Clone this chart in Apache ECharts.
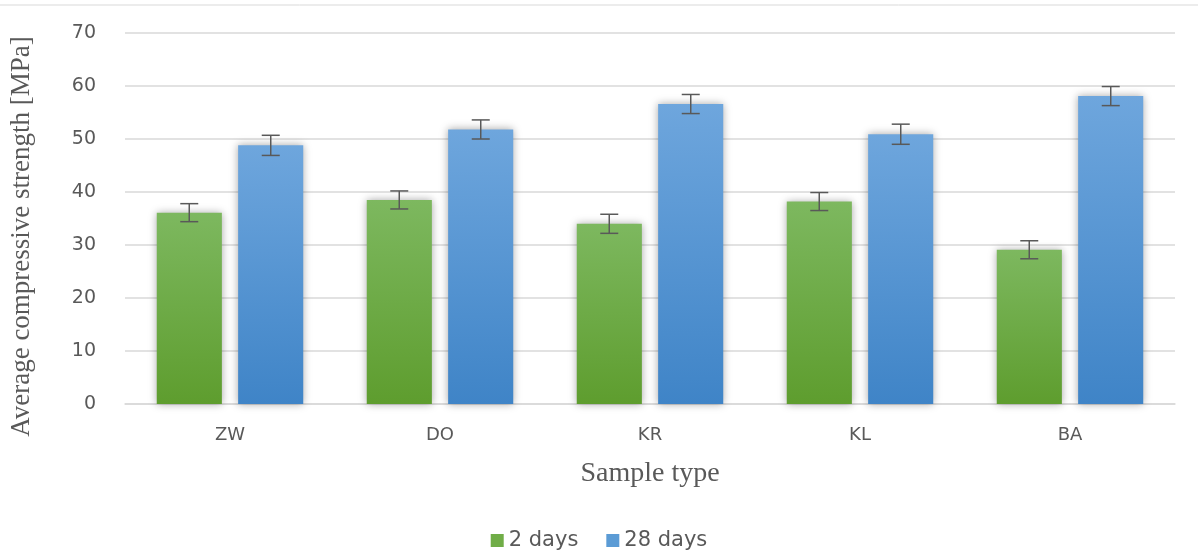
<!DOCTYPE html>
<html>
<head>
<meta charset="utf-8">
<script src="https://cdn.jsdelivr.net/npm/echarts@6/dist/echarts.min.js"></script>
<style>html,body{margin:0;padding:0;background:#fff}#c{width:1198px;height:558px}</style>
</head>
<body>
<div id="c"></div>
<script>
const categories = ['ZW', 'DO', 'KR', 'KL', 'BA'];
const days2 = [36.1, 38.5, 34.0, 38.2, 29.1];
const days28 = [48.8, 51.8, 56.6, 50.9, 58.1];
const err2 = [1.7, 1.7, 1.8, 1.7, 1.7];
const err28 = [1.9, 1.8, 1.8, 1.9, 1.8];
const seriesNames = ['2 days', '28 days'];

const chart = echarts.init(document.getElementById('c'));

function errSeries(vals, errs, side) {
  return {
    type: 'custom',
    z: 10,
    silent: true,
    data: vals.map((v, i) => [i, v, errs[i]]),
    renderItem: function (params, api) {
      const i = api.value(0), v = api.value(1), e = api.value(2);
      const band = api.size([1, 0])[0];
      const off = side * band * 0.194;
      const top = api.coord([i, v + e]);
      const bot = api.coord([i, v - e]);
      const x = top[0] + off;
      const hw = 9;
      const st = { stroke: '#595959', lineWidth: 1.5 };
      return {
        type: 'group',
        children: [
          { type: 'line', shape: { x1: x, y1: top[1], x2: x, y2: bot[1] }, style: st },
          { type: 'line', shape: { x1: x - hw, y1: top[1], x2: x + hw, y2: top[1] }, style: st },
          { type: 'line', shape: { x1: x - hw, y1: bot[1], x2: x + hw, y2: bot[1] }, style: st }
        ]
      };
    }
  };
}

const green = new echarts.graphic.LinearGradient(0, 0, 0, 1, [
  { offset: 0, color: '#7db85f' }, { offset: 1, color: '#5e9d2e' }
]);
const blue = new echarts.graphic.LinearGradient(0, 0, 0, 1, [
  { offset: 0, color: '#6ea6dd' }, { offset: 1, color: '#3f84c7' }
]);

chart.setOption({
  animation: false,
  backgroundColor: '#fff',
  graphic: [{
    type: 'line', shape: { x1: 0, y1: 5, x2: 1198, y2: 5 },
    style: { stroke: '#d9d9d9', lineWidth: 1 }
  }],
  legend: {
    bottom: 2,
    left: 'center',
    itemWidth: 13,
    itemHeight: 13,
    itemGap: 28,
    icon: 'rect',
    textStyle: { fontFamily: 'DejaVu Sans', fontSize: 21, color: '#595959' },
    data: [
      { name: seriesNames[0], itemStyle: { color: '#70ad47' } },
      { name: seriesNames[1], itemStyle: { color: '#5b9bd5' } }
    ]
  },
  grid: { left: 125, right: 23, top: 33, bottom: 154, containLabel: false, outerBoundsMode: 'none' },
  xAxis: {
    type: 'category',
    data: categories,
    name: 'Sample type',
    nameLocation: 'middle',
    nameGap: 56,
    nameTextStyle: { fontFamily: 'Liberation Serif', fontSize: 28, color: '#595959' },
    axisLine: { lineStyle: { color: '#d9d9d9', width: 1.5 } },
    axisTick: { show: false },
    axisLabel: { margin: 22, fontFamily: 'DejaVu Sans', fontSize: 18, color: '#595959' }
  },
  yAxis: {
    type: 'value',
    min: 0, max: 70, interval: 10,
    name: 'Average compressive strength [MPa]',
    nameLocation: 'middle',
    nameGap: 90,
    nameTextStyle: { fontFamily: 'Liberation Serif', fontSize: 27, color: '#595959', padding: [0, 0, 0, -36] },
    axisLine: { show: false },
    axisTick: { show: false },
    axisLabel: { margin: 29, fontFamily: 'DejaVu Sans', fontSize: 19, color: '#595959' },
    splitLine: { lineStyle: { color: '#d9d9d9', width: 1.5 } }
  },
  series: [
    {
      name: seriesNames[0], type: 'bar', data: days2,
      barWidth: '31%', barGap: '25%',
      itemStyle: { color: green, shadowColor: 'rgba(0,0,0,0.35)', shadowBlur: 8 }
    },
    {
      name: seriesNames[1], type: 'bar', data: days28,
      barWidth: '31%', barGap: '25%',
      itemStyle: { color: blue, shadowColor: 'rgba(0,0,0,0.35)', shadowBlur: 8 }
    },
    errSeries(days2, err2, -1),
    errSeries(days28, err28, 1)
  ]
});
</script>
</body>
</html>
